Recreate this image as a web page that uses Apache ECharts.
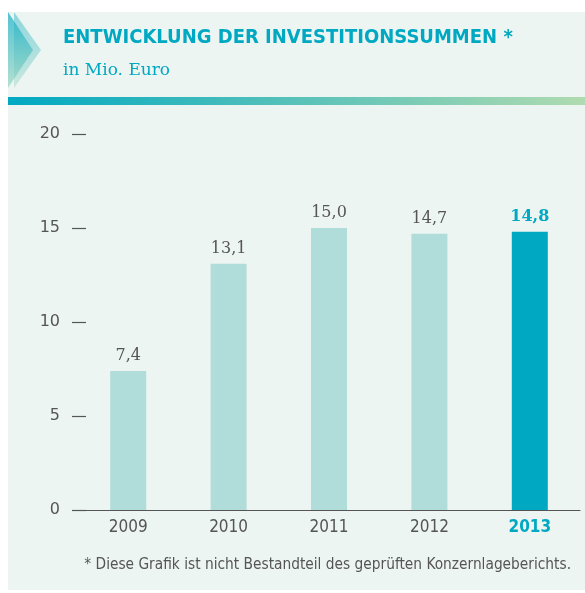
<!DOCTYPE html>
<html>
<head>
<meta charset="utf-8">
<script src="https://cdn.jsdelivr.net/npm/echarts@6/dist/echarts.min.js"></script>
<style>
    html, body { margin: 0; padding: 0; background: #fff; }
    #chart { width: 585px; height: 593px; }
</style>
</head>
<body>
<div id="chart"></div>
<script>
    // Werte in Mio. Euro
    let years = ['2009', '2010', '2011', '2012', '2013'];
    let values = [7.4, 13.1, 15.0, 14.7, 14.8];
    let yTicks = [0, 5, 10, 15, 20];

    let teal = '#00a8c2';
    let lightBar = '#b0dcd9';
    let grey = '#555';
    let bg = '#edf5f2';

    let lastIdx = years.length - 1;

    let barData = values.map(function (v, i) {
        let hl = i === lastIdx;
        return {
            value: v,
            itemStyle: { color: hl ? teal : lightBar },
            label: {
                color: hl ? teal : grey,
                fontWeight: hl ? 'bold' : 'normal'
            }
        };
    });

    let arrowGrad = function (a) {
        return new echarts.graphic.LinearGradient(0, 0, 0, 1, [
            { offset: 0, color: 'rgba(0,168,194,' + a + ')' },
            { offset: 1, color: 'rgba(150,212,190,' + a + ')' }
        ]);
    };

    let option = {
        backgroundColor: '#fff',
        animation: false,
        graphic: [
            { type: 'rect', shape: { x: 8, y: 12, width: 577, height: 578 }, style: { fill: bg }, z: -10 },
            { type: 'polygon', shape: { points: [[8, 12], [33, 50], [8, 88]] }, style: { fill: arrowGrad(0.65) } },
            { type: 'polygon', shape: { points: [[14, 12], [41, 50], [14, 88]] }, style: { fill: arrowGrad(0.4) } },
            {
                type: 'rect', shape: { x: 8, y: 97, width: 577, height: 8 },
                style: {
                    fill: new echarts.graphic.LinearGradient(0, 0, 1, 0, [
                        { offset: 0, color: '#00a8c2' },
                        { offset: 1, color: '#b0dbb0' }
                    ])
                }
            },
            {
                type: 'text', left: 63, top: 28,
                style: {
                    text: 'ENTWICKLUNG DER INVESTITIONSSUMMEN *',
                    font: 'bold 20px "DejaVu Sans Condensed"',
                    fill: teal
                }
            },
            {
                type: 'text', left: 63, top: 62,
                style: { text: 'in Mio. Euro', font: '17px "DejaVu Serif"', fill: teal }
            },
            {
                type: 'text', right: 14, top: 558,
                style: {
                    text: '* Diese Grafik ist nicht Bestandteil des geprüften Konzernlageberichts.',
                    font: '15.3px "DejaVu Sans Condensed"',
                    fill: grey
                }
            }
        ],
        grid: { left: 78, right: 5, top: 134, bottom: 83 },
        xAxis: {
            type: 'category',
            data: years,
            axisLine: { lineStyle: { color: grey, width: 1.2 } },
            axisTick: { show: false },
            axisLabel: {
                margin: 9,
                fontFamily: '"DejaVu Sans Condensed"',
                fontSize: 17,
                color: grey,
                formatter: function (v, i) {
                    return i === lastIdx ? '{b|' + v + '}' : v;
                },
                rich: { b: { color: teal, fontWeight: 'bold', fontSize: 17, fontFamily: '"DejaVu Sans Condensed"' } }
            }
        },
        yAxis: {
            type: 'value',
            min: yTicks[0],
            max: yTicks[yTicks.length - 1],
            interval: 5,
            offset: 6,
            axisLine: { show: false },
            axisTick: { show: true, inside: true, length: 14, lineStyle: { color: grey, width: 1.2 } },
            splitLine: { show: false },
            axisLabel: {
                margin: 12,
                fontFamily: '"DejaVu Sans"',
                fontSize: 16,
                color: grey
            }
        },
        series: [{
            type: 'bar',
            data: barData,
            barWidth: 36,
            label: {
                show: true,
                position: 'top',
                distance: 7,
                fontFamily: '"DejaVu Serif"',
                fontSize: 16,
                formatter: function (p) { return p.value.toFixed(1).replace('.', ','); }
            }
        }]
    };

    let chart = echarts.init(document.getElementById('chart'));
    chart.setOption(option);
</script>
</body>
</html>
